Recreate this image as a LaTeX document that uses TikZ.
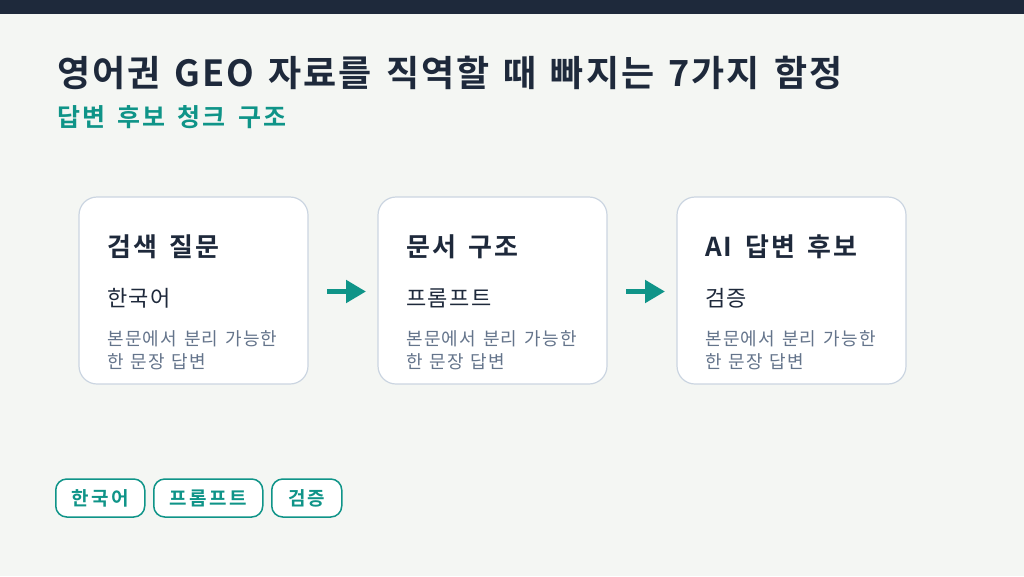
\documentclass[tikz,border=0pt]{standalone}
\usepackage{fontspec}
\setmainfont{Noto Sans CJK KR}[BoldFont={* Bold}]
\newfontfamily\wideA{Noto Sans CJK KR}[BoldFont={* Bold}, LetterSpace=12, WordSpace=1.6]
\newfontfamily\wideH{Noto Sans CJK KR}[BoldFont={* Bold}, LetterSpace=8, WordSpace=1.6]
\newfontfamily\wideB{Noto Sans CJK KR}[BoldFont={* Bold}, LetterSpace=7, WordSpace=1.3]
\newfontfamily\wideT{Noto Sans CJK KR}[BoldFont={* Bold}, LetterSpace=5.5, WordSpace=1.4]
\usetikzlibrary{arrows.meta}
\definecolor{bg}{HTML}{F4F6F3}
\definecolor{navy}{HTML}{1E293B}
\definecolor{teal}{HTML}{0F9488}
\definecolor{ink}{HTML}{1E293B}
\definecolor{muted}{HTML}{64748B}
\definecolor{edge}{HTML}{CBD5E1}
\tikzset{
  card/.style={draw=edge, line width=1.2pt, fill=white, rounded corners=18pt},
  head/.style={anchor=west, text=ink, font=\wideH\bfseries\fontsize{26}{30}\selectfont, inner sep=0pt},
  sub/.style={anchor=west, text=ink, font=\wideB\fontsize{22}{26}\selectfont, inner sep=0pt},
  desc/.style={anchor=north west, text=muted, font=\wideB\fontsize{18}{23}\selectfont, inner sep=0pt, align=left},
  flow/.style={draw=teal, line width=5pt, -{Triangle[length=20pt,width=22pt]}},
  tag/.style={draw=teal, line width=1.5pt, fill=white, rounded corners=11pt, text=teal, font=\wideA\bfseries\fontsize{19}{22}\selectfont, minimum height=38pt, inner xsep=8pt, inner ysep=0pt}
}
\begin{document}
\begin{tikzpicture}[x=1pt,y=-1pt]
\fill[bg] (0,0) rectangle (1024,576);
\fill[navy] (0,0) rectangle (1024,14);
\node[anchor=west, inner sep=0pt, text=ink, font=\wideT\bfseries\fontsize{36}{42}\selectfont] (title) at (57,73) {영어권 GEO 자료를 직역할 때 빠지는 7가지 함정};
\node[anchor=west, inner sep=0pt, text=teal, font=\wideH\bfseries\fontsize{25}{28}\selectfont] (subtitle) at (57,117) {답변 후보 청크 구조};
% cards
\foreach \x/\n/\h/\s in {79/c1/검색 질문/한국어, 378/c2/문서 구조/프롬프트, 677/c3/AI 답변 후보/검증}{
  \draw[card] (\x,197) rectangle ++(229,187);
  \node[head] (\n h) at (\x+28,247) {\h};
  \node[sub] (\n s) at (\x+28,298) {\s};
  \node[desc] (\n d) at (\x+28,330) {본문에서 분리 가능한\\한 문장 답변};
}
\coordinate (a1s) at (327,291.5); \coordinate (a1e) at (366,291.5);
\coordinate (a2s) at (626,291.5); \coordinate (a2e) at (665,291.5);
\draw[flow] (a1s) -- (a1e);
\draw[flow] (a2s) -- (a2e);
% tags
\node[tag, anchor=west, minimum width=89pt] (t1) at (55,498) {한국어};
\node[tag, anchor=west, minimum width=109pt] (t2) at (153,498) {프롬프트};
\node[tag, anchor=west, minimum width=70pt] (t3) at (271,498) {검증};
\end{tikzpicture}
\end{document}
